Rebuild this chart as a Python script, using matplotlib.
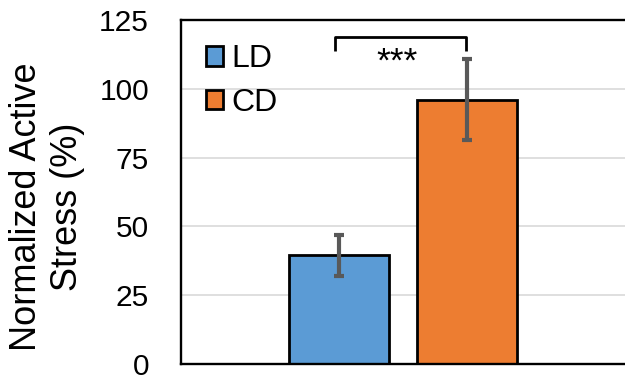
import matplotlib
matplotlib.use("Agg")
import matplotlib.pyplot as plt
import numpy as np

# data
groups = ["LD", "CD"]
means = [39.5, 96.0]
errs = [7.5, 14.7]
colors = ["#5B9BD5", "#ED7D31"]
yticks = [0, 25, 50, 75, 100, 125]
sig_label = "***"

plt.rcParams['font.family'] = ['Liberation Sans', 'DejaVu Sans']

W, H = 625, 379
fig = plt.figure(figsize=(W / 100, H / 100), dpi=100)
# axes box in pixels: left 181, right 628 (right edge cut off), top 20, bottom 364
ax = fig.add_axes([181 / W, (H - 364) / H, (628 - 181) / W, (364 - 20) / H])

x = np.arange(len(groups))
bars = ax.bar(x, means, width=0.78, color=colors, edgecolor="black",
              linewidth=2.0, label=groups, zorder=2)
ax.errorbar(x, means, yerr=errs, fmt="none", ecolor="#595959",
            elinewidth=3.0, capsize=3.6, capthick=3.0, zorder=3)

ax.set_xlim(-1.237, 2.255)
ax.set_ylim(0, 125)
ax.set_yticks(yticks)
ax.set_xticks([])
ax.tick_params(axis="y", length=0, pad=23, labelsize=21.5)
ax.yaxis.grid(True, color="#d9d9d9", linewidth=1.2)
ax.set_axisbelow(True)
for s in ax.spines.values():
    s.set_linewidth(1.7)
    s.set_color("black")

# significance bracket
top = 118.9
leg = 113.8
ax.plot([x[0] - 0.035, x[0] - 0.035, x[1] - 0.01, x[1] - 0.01],
        [leg, top, top, leg], color="black", linewidth=2.0,
        solid_capstyle="butt", zorder=4)
ax.text((x[0] + x[1]) / 2 - 0.05, 106.2, sig_label, ha="center",
        va="baseline", fontsize=25.5)

ax.legend(loc="upper left", bbox_to_anchor=(0.012, 0.985), frameon=False,
          fontsize=23, handlelength=0.56, handleheight=0.56,
          handletextpad=0.24, labelspacing=0.42, borderaxespad=0.3,
          borderpad=0.3)

fig.text(47 / W, 1 - 207 / H, "Normalized Active\nStress (%)", rotation=90,
         ha="center", va="center", multialignment="center", fontsize=26,
         linespacing=1.22)

fig.savefig("out.png", dpi=100)
